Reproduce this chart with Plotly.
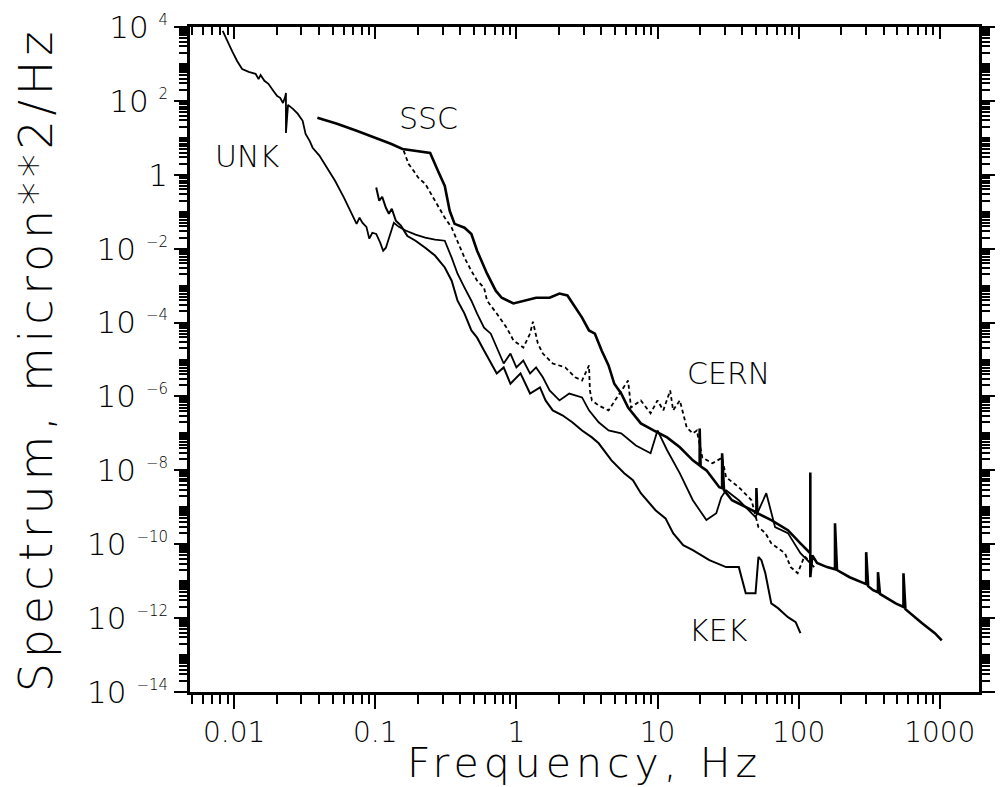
import plotly.graph_objects as go

# ---- data (frequency in Hz, spectrum in micron^2/Hz) ----
unk_freq = [0.0083, 0.0089, 0.0097, 0.0105, 0.0114, 0.0127, 0.0142, 0.0149, 0.0154, 0.0164,
            0.0175, 0.019, 0.0202, 0.0212, 0.0222, 0.023, 0.0233, 0.0233, 0.0241, 0.0261,
            0.0282, 0.0306, 0.0321, 0.0343, 0.036, 0.0402, 0.0457, 0.0519, 0.060, 0.0649,
            0.0703, 0.0738, 0.0774, 0.0813, 0.0866, 0.0908, 0.0953, 0.1016, 0.1084, 0.1138,
            0.119, 0.127, 0.1355, 0.147, 0.164, 0.193, 0.226, 0.265, 0.311, 0.348,
            0.383, 0.429, 0.480, 0.527, 0.590, 0.659, 0.726, 0.813, 0.908, 1.0,
            1.12, 1.25, 1.38, 1.54, 1.72, 2.02, 2.37, 2.92, 3.27, 3.83,
            4.50, 5.53, 7.03, 8.93, 10.0, 11.7, 14.4, 17.8, 22.2, 26.1,
            28.3, 30.6, 37.7, 49.5, 59.0, 68.1, 84.0, 103, 129]
unk_spec = [7.8e3, 4.2e3, 2.2e3, 1.2e3, 730, 610, 540, 390, 500, 350,
            290, 186, 136, 121, 88, 128, 164, 13.6, 78, 61,
            45, 29, 12.8, 8.3, 5.4, 3.3, 1.55, 0.69, 0.24, 0.128,
            0.069, 0.047, 0.069, 0.050, 0.039, 0.0186, 0.027, 0.025, 0.0145, 0.0088,
            0.0106, 0.022, 0.050, 0.039, 0.031, 0.024, 0.0198, 0.0175, 0.0164, 0.0057,
            0.0021, 8.8e-4, 3.9e-4, 1.75e-4, 7.3e-5, 5.0e-5, 2.1e-5, 7.8e-6, 1.45e-5, 6.1e-6,
            9.4e-6, 4.2e-6, 6.1e-6, 3.3e-6, 1.45e-6, 7.8e-7, 1.2e-6, 9.4e-7, 4.2e-7, 2.0e-7,
            1.2e-7, 1.0e-7, 4.7e-8, 2.9e-8, 1.2e-7, 3.5e-8, 8.3e-9, 1.55e-9, 4.5e-10, 6.9e-10,
            1.86e-9, 2.9e-9, 1.55e-9, 5.4e-10, 2.4e-9, 2.9e-10, 2.0e-10, 5.7e-11, 2.4e-11]

ssc_freq = [0.0389, 0.0536, 0.0738, 0.1016, 0.129, 0.156, 0.193, 0.245, 0.278, 0.311,
            0.337, 0.365, 0.429, 0.480, 0.527, 0.620, 0.714, 0.787, 0.953, 1.12,
            1.38, 1.72, 2.02, 2.30, 2.61, 2.92, 3.27, 3.60, 4.02, 4.50,
            4.94, 5.53, 6.19, 7.62, 9.38, 11.7, 14.4, 17.8, 19.9, 19.9,
            20.2, 22.2, 27.4, 28.7, 28.7, 29.6, 33.7, 42.2, 50.2, 50.2,
            51.0, 64.0, 84.0, 103, 121, 121, 121, 125, 135, 159,
            181, 181, 187, 230, 287, 301, 301, 311, 337, 365,
            365, 377, 487, 553, 553, 571, 750, 923, 1033]
ssc_spec = [35, 24, 15.5, 10, 6.9, 5.0, 4.5, 3.9, 1.28, 0.50,
            0.106, 0.047, 0.037, 0.025, 0.0088, 0.0021, 7.3e-4, 4.7e-4, 3.3e-4, 3.9e-4,
            4.7e-4, 4.7e-4, 6.1e-4, 5.4e-4, 2.5e-4, 1.36e-4, 6.1e-5, 5.0e-5, 1.75e-5, 6.9e-6,
            2.2e-6, 1.2e-6, 5.0e-7, 1.86e-7, 1.2e-7, 7.8e-8, 4.2e-8, 1.86e-8, 1.36e-8, 1.36e-7,
            1.28e-8, 1.0e-8, 3.5e-9, 3.3e-9, 2.9e-8, 2.9e-9, 1.55e-9, 1.0e-9, 7.3e-10, 3.3e-9,
            6.9e-10, 4.5e-10, 2.4e-10, 1.06e-10, 5.7e-11, 8.8e-9, 1.28e-11, 5.0e-11, 3.1e-11, 2.4e-11,
            2.1e-11, 3.7e-10, 2.0e-11, 1.28e-11, 8.8e-12, 8.3e-12, 6.1e-11, 7.3e-12, 5.7e-12, 5.0e-12,
            1.75e-11, 4.5e-12, 2.5e-12, 2.0e-12, 1.64e-11, 1.75e-12, 7.3e-13, 3.9e-13, 2.5e-13]

dash_freq = [0.159, 0.172, 0.187, 0.202, 0.226, 0.265, 0.311, 0.348, 0.383, 0.429,
             0.480, 0.527, 0.590, 0.620, 0.726, 0.853, 0.953, 1.12, 1.25, 1.31,
             1.42, 1.54, 1.81, 2.22, 2.61, 2.92, 3.27, 3.32, 3.43, 3.83,
             4.50, 5.27, 6.19, 6.49, 7.62, 8.93, 10.0, 11.0, 12.3, 12.9,
             14.4, 16.1, 17.8, 19.0, 20.8, 24.5, 28.7, 30.6, 37.7, 46.4,
             51.9, 58.1, 64.0, 80.0, 87.9, 98.4, 110, 121]
dash_spec = [4.5, 1.98, 1.28, 0.83, 0.57, 0.198, 0.069, 0.037, 0.0164, 0.0057,
             0.0025, 0.00136, 8.8e-4, 3.9e-4, 1.75e-4, 7.3e-5, 3.3e-5, 2.1e-5, 5.0e-5, 1.06e-4,
             2.7e-5, 1.45e-5, 7.8e-6, 6.1e-6, 3.3e-6, 2.7e-6, 6.9e-6, 1.45e-6, 7.8e-7, 5.7e-7,
             4.2e-7, 1.06e-6, 2.7e-6, 5.0e-7, 7.8e-7, 3.5e-7, 7.8e-7, 4.2e-7, 1.45e-6, 4.2e-7,
             7.8e-7, 1.45e-7, 1.0e-7, 1.2e-7, 2.2e-8, 1.55e-8, 2.2e-8, 6.5e-9, 3.5e-9, 1.55e-9,
             2.9e-10, 2.0e-10, 1.06e-10, 5.7e-11, 2.4e-11, 1.64e-11, 4.7e-11, 3.3e-11]

kek_freq = [0.1016, 0.1067, 0.112, 0.119, 0.125, 0.131, 0.140, 0.152, 0.169, 0.193,
            0.226, 0.265, 0.311, 0.348, 0.383, 0.429, 0.480, 0.527, 0.590, 0.659,
            0.726, 0.813, 0.908, 1.07, 1.25, 1.47, 1.61, 1.81, 2.12, 2.49,
            2.92, 3.43, 3.83, 4.72, 5.81, 6.70, 7.62, 9.68, 11.4, 12.9,
            15.2, 17.8, 23.3, 30.6, 37.7, 42.2, 49.5, 51.9, 54.5, 58.1,
            64.0, 71.4, 84.0, 95.3, 103]
kek_spec = [0.45, 0.198, 0.254, 0.128, 0.088, 0.120, 0.057, 0.042, 0.022, 0.0164,
            0.0106, 0.0065, 0.0031, 0.00136, 3.9e-4, 1.75e-4, 6.1e-5, 3.9e-5, 1.75e-5, 7.8e-6,
            4.2e-6, 6.1e-6, 2.2e-6, 4.2e-6, 1.2e-6, 1.75e-6, 7.8e-7, 4.2e-7, 3.1e-7, 2.0e-7,
            1.2e-7, 7.8e-8, 5.4e-8, 1.86e-8, 8.3e-9, 5.4e-9, 2.4e-9, 8.3e-10, 5.0e-10, 2.0e-10,
            9.4e-11, 6.9e-11, 3.7e-11, 2.4e-11, 2.4e-11, 4.7e-12, 4.7e-12, 4.5e-11, 3.7e-11, 1.64e-11,
            2.5e-12, 1.86e-12, 1.06e-12, 7.8e-13, 3.9e-13]

x_tick_vals = [0.01, 0.1, 1, 10, 100, 1000]
x_tick_text = ["0.01", "0.1", "1", "10", "100", "1000"]
y_label_exponents = [-14, -12, -10, -8, -6, -4, -2, 0, 2, 4]
y_tick_text = ["1" if e == 0 else
               "10 <sup><span style='font-size:15px'>%s</span></sup>" % str(e).replace("-", "\u2212")
               for e in y_label_exponents]

curve_labels = ["UNK", "SSC", "CERN", "KEK"]
label_pos = [(0.072, 0.806), (0.302, 0.863), (0.682, 0.479), (0.670, 0.092)]

FONT = "DejaVu Sans"
W = 200  # light weight if available

fig = go.Figure()
fig.add_trace(go.Scatter(x=unk_freq, y=unk_spec, mode="lines", name="UNK",
                         line=dict(color="black", width=1.8)))
fig.add_trace(go.Scatter(x=ssc_freq, y=ssc_spec, mode="lines", name="SSC",
                         line=dict(color="black", width=2.6)))
fig.add_trace(go.Scatter(x=kek_freq, y=kek_spec, mode="lines", name="KEK",
                         line=dict(color="black", width=2.0)))
fig.add_trace(go.Scatter(x=dash_freq, y=dash_spec, mode="lines", name="CERN",
                         xaxis="x2", line=dict(color="black", width=1.8, dash="4px,3px")))

x_minor = [m * 10.0 ** e for e in range(-3, 4) for m in range(2, 10)]
y_vals = [10.0 ** e for e in y_label_exponents]
y_minor = [m * 10.0 ** e for e in range(-15, 5) for m in range(1, 10)
           if not (m == 1 and e % 2 == 0)]

xrange_log = [-2.3125, 3.278]
common_x = dict(type="log", range=xrange_log, showgrid=False, zeroline=False,
                linecolor="black", linewidth=2.5, tickcolor="black", tickwidth=2,
                tickmode="array", tickvals=x_tick_vals)

fig.update_layout(
    width=1004, height=787,
    margin=dict(l=190, r=9, t=26, b=95),
    paper_bgcolor="white", plot_bgcolor="white",
    showlegend=False,
    font=dict(family=FONT, color="black", weight=W),
    xaxis=dict(**common_x, ticktext=x_tick_text, ticks="outside", ticklen=14,
               showline=True, mirror=True,
               tickfont=dict(size=28, family=FONT, weight=W),
               minor=dict(tickmode="array", tickvals=x_minor, ticks="outside", ticklen=9,
                          tickwidth=1.6, tickcolor="black", showgrid=False),
               title=dict(text="<span style='letter-spacing:5px'>Frequency, Hz</span>",
                          font=dict(size=41, family=FONT, weight=W), standoff=0)),
    xaxis2=dict(**common_x, overlaying="x", side="top", ticks="inside", ticklen=12,
                showticklabels=False, showline=True,
                minor=dict(tickmode="array", tickvals=x_minor, ticks="inside", ticklen=8,
                           tickwidth=1.6, tickcolor="black", showgrid=False)),
    yaxis=dict(type="log", range=[-14, 4], showgrid=False, zeroline=False,
               showline=True, linecolor="black", linewidth=2.5, mirror="ticks",
               ticks="outside", ticklen=13, tickwidth=2, tickcolor="black",
               tickmode="array", tickvals=y_vals, ticktext=y_tick_text,
               tickfont=dict(size=31, family=FONT, weight=W),
               minor=dict(tickmode="array", tickvals=y_minor, ticks="outside", ticklen=8,
                          tickwidth=1.5, tickcolor="black", showgrid=False),
               title=dict(text="<span style='letter-spacing:4.8px'>Spectrum, micron**2/Hz</span>",
                          font=dict(size=46, family=FONT, weight=W), standoff=20)),
)

for text, (px, py) in zip(curve_labels, label_pos):
    fig.add_annotation(text=text, x=px, y=py, xref="paper", yref="paper",
                       showarrow=False, font=dict(size=30, family=FONT, color="black", weight=W),
                       xanchor="center", yanchor="middle")

fig.write_html("out.html")
